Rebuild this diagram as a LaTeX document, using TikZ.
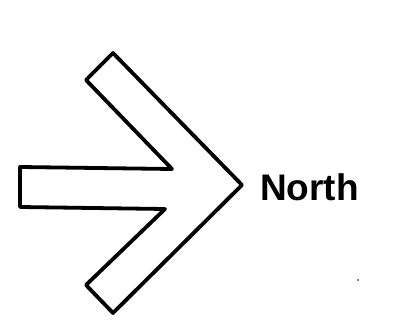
\documentclass[tikz,border=0pt]{standalone}
\usepackage{fontspec}
\setmainfont{Liberation Sans}
\begin{document}
\begin{tikzpicture}[x=1pt,y=-1pt,
  outline/.style={draw=black,line width=3.8pt,line join=round,fill=white},
  label/.style={inner sep=0pt,anchor=base west,font=\bfseries\fontsize{37}{37}\selectfont}]
\useasboundingbox (0,0) rectangle (393,326);
\coordinate (s1) at (20,167);
\coordinate (n1) at (172,169);
\coordinate (a1) at (86,80);
\coordinate (a2) at (113,53);
\coordinate (tip) at (242,185);
\coordinate (b2) at (113,313);
\coordinate (b1) at (86,285);
\coordinate (n2) at (165,209);
\coordinate (s2) at (20,207);
\draw[outline] (s1) -- (n1) -- (a1) -- (a2) -- (tip) -- (b2) -- (b1) -- (n2) -- (s2) -- cycle;
\node[label] (north) at (260,200) {North};
\fill (358,280) circle (0.8);
\end{tikzpicture}
\end{document}
